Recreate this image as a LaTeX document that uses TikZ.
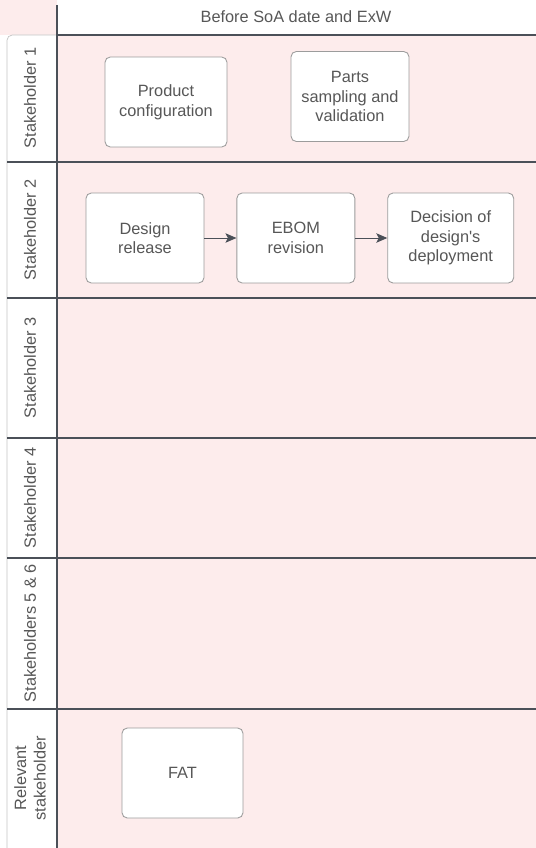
\documentclass[tikz,border=0pt]{standalone}
\usepackage{fontspec}
\newfontfamily\chartfont{Liberation Sans}
\usetikzlibrary{arrows.meta,positioning}
\definecolor{Lane}{HTML}{FDECEC}
\definecolor{Rule}{HTML}{4B5058}
\definecolor{Edge}{HTML}{9C9C9C}
\definecolor{Muted}{HTML}{575757}
\tikzset{task/.style={draw=Edge,fill=white,rounded corners=3pt,align=center,minimum width=2.4cm,minimum height=1.8cm,text=Muted,font=\chartfont\fontsize{9.3}{11.2}\selectfont,line width=.5pt},flow/.style={-{Stealth[length=2.2mm,width=1.9mm,inset=.5mm]},draw=Rule,line width=.5pt},lanename/.style={rotate=90,text=Muted,align=center,font=\chartfont\fontsize{9.3}{11.2}\selectfont},sep/.style={draw=Rule,line width=.6pt}}

\begin{document}
\begin{tikzpicture}[x=0.02cm,y=-0.02cm]
\useasboundingbox (0,0) rectangle (536,848);
% background of lanes and header
\fill[Lane] (0,0) rectangle (57,35);
\fill[Lane] (57,35) rectangle (536,848);
\fill[white,rounded corners=3pt] (7,848) -- (7,35) -- (57,35) -- (57,848) -- cycle;
\draw[Edge!60,rounded corners=3pt] (7,848) -- (7,35) -- (57,35);
\foreach \y in {35,162,298,438,558,709}
  \draw[sep] (57,\y) -- (536,\y);
\foreach \y in {162,298,438,558,709}
  \draw[sep] (7,\y) -- (57,\y);
\draw[sep] (57,5) -- (57,848);
\node[text=Muted,font=\chartfont\fontsize{9.3}{11.2}\selectfont] (head) at (296,17) {Before SoA date and ExW};
% lane names
\node[lanename] (l1) at (30,98) {Stakeholder 1};
\node[lanename] (l2) at (30,230) {Stakeholder 2};
\node[lanename] (l3) at (30,368) {Stakeholder 3};
\node[lanename] (l4) at (30,498) {Stakeholder 4};
\node[lanename] (l5) at (30,633) {Stakeholders 5 \& 6};
\node[lanename] (l6) at (30,778) {Relevant\\stakeholder};
% tasks
\node[task,minimum width=2.44cm] (config) at (166,102) {Product\\configuration};
\node[task,minimum width=2.36cm] (parts) at (350,96.5) {Parts\\sampling and\\validation};
\node[task,minimum width=2.36cm] (release) at (145,238) {Design\\release};
\node[task,minimum width=2.36cm,right=0.64cm of release] (ebom) {EBOM\\revision};
\node[task,minimum width=2.52cm,right=0.64cm of ebom] (decision) {Decision of\\design's\\deployment};
\node[task,minimum width=2.42cm] (fat) at (182.5,773) {FAT};
\draw[flow] (release) -- (ebom);
\draw[flow] (ebom) -- (decision);
\end{tikzpicture}
\end{document}
